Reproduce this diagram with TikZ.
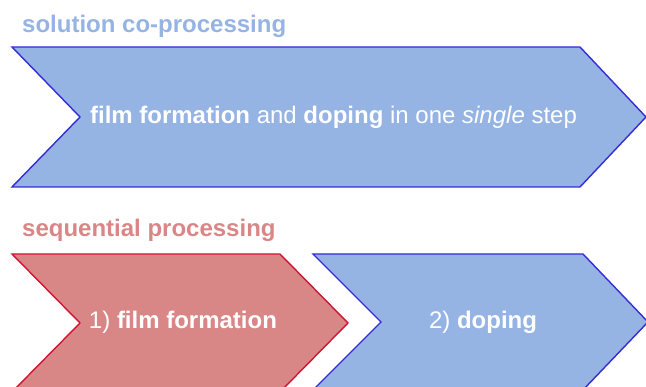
\documentclass[tikz,border=0pt]{standalone}
\usepackage{fontspec}
\setmainfont{Liberation Sans}
\definecolor{lightblue}{RGB}{149,179,227}
\definecolor{edgeblue}{RGB}{52,44,214}
\definecolor{lightred}{RGB}{217,134,134}
\definecolor{edgered}{RGB}{210,20,50}
\tikzset{
  chevblue/.style={fill=lightblue, draw=edgeblue, line width=1.4pt, line join=miter},
  chevred/.style={fill=lightred, draw=edgered, line width=1.4pt, line join=miter},
  heading/.style={anchor=base west, inner sep=0pt, font=\fontsize{24}{28}\selectfont\bfseries},
  label/.style={anchor=base, inner sep=0pt, text=white, font=\fontsize{24}{28}\selectfont}
}
\begin{document}
\begin{tikzpicture}[x=1pt, y=-1pt]
  \useasboundingbox (0,0) rectangle (646,387);
  \clip (0,0) rectangle (646,387);

  % single-step route
  \node[heading, text=lightblue] (cotitle) at (22,33) {solution co-processing};
  \draw[chevblue] (12,47) -- (580,47) -- (646,117) -- (580,187) -- (12,187) -- (80,117) -- cycle;
  \node[label] (cotext) at (333.5,124)
    {\textbf{film formation} and \textbf{doping} in one \textit{single} step};

  % two-step route
  \node[heading, text=lightred] (seqtitle) at (22,237) {sequential processing};
  \draw[chevred] (12,254) -- (280,254) -- (348,323) -- (280,392) -- (12,392) -- (80,323) -- cycle;
  \draw[chevblue] (313,254) -- (583,254) -- (648,322) -- (583,390) -- (313,390) -- (381,322) -- cycle;
  \node[label] (stepone) at (183,329) {1) \textbf{film formation}};
  \node[label] (steptwo) at (483,329) {2) \textbf{doping}};
\end{tikzpicture}
\end{document}
